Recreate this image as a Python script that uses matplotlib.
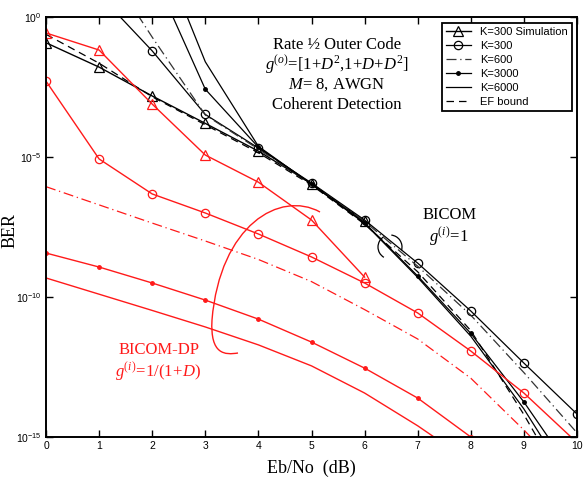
import numpy as np
import matplotlib
matplotlib.use("Agg")
import matplotlib.pyplot as plt
from matplotlib.path import Path
from matplotlib.patches import PathPatch, Arc

plt.rcParams['font.family'] = ['Liberation Sans', 'DejaVu Sans']
plt.rcParams['mathtext.fontset'] = 'custom'
plt.rcParams['mathtext.rm'] = 'Liberation Serif'
plt.rcParams['mathtext.it'] = 'Liberation Serif:italic'
plt.rcParams['mathtext.bf'] = 'Liberation Serif:bold'
plt.rcParams['mathtext.sf'] = 'Liberation Sans'

# BICOM, g(i)=1  (log10 BER)
bicom_sim_x = [0, 1, 2, 3, 4, 5, 6]
bicom_sim = [-0.92, -1.79, -2.82, -3.80, -4.79, -5.95, -7.30]
bicom_k300_x = [1, 2, 3, 4, 5, 6, 7, 8, 9, 10]
bicom_k300 = [0.8, -1.21, -3.48, -4.68, -5.93, -7.25, -8.79, -10.5, -12.36, -14.18]
bicom_k600_x = [1, 2, 3, 4, 5, 6, 7, 8, 9, 10]
bicom_k600 = [2.2, -0.72, -3.5, -4.72, -5.97, -7.3, -8.9, -10.65, -12.7, -14.85]
bicom_k3000_x = [2, 3, 4, 5, 6, 7, 8, 9, 10]
bicom_k3000 = [1.65, -2.58, -4.65, -5.97, -7.35, -9.25, -11.3, -13.75, -16.5]
bicom_k6000_x = [2, 3, 4, 5, 6, 7, 8, 9, 10]
bicom_k6000 = [3.1, -1.6, -4.62, -5.97, -7.37, -9.3, -11.4, -14.0, -17.0]
ef_x = [0, 1, 2, 3, 4, 5, 6, 7, 8, 9, 10]
ef_bound = [-0.62, -1.65, -2.85, -3.85, -4.85, -6.0, -7.4, -9.1, -11.2, -14.2, -17.5]

# BICOM-DP, g(i)=1/(1+D)
dp_sim_x = [0, 1, 2, 3, 4, 5, 6]
dp_sim = [-0.57, -1.18, -3.11, -4.93, -5.9, -7.25, -9.29]
dp_k300_x = [0, 1, 2, 3, 4, 5, 6, 7, 8, 9, 10]
dp_k300 = [-2.29, -5.07, -6.32, -7.0, -7.75, -8.57, -9.5, -10.57, -11.93, -13.43, -15.2]
dp_k600_x = [0, 1, 2, 3, 4, 5, 6, 7, 8, 9, 10]
dp_k600 = [-6.06, -6.71, -7.36, -8.0, -8.66, -9.45, -10.45, -11.5, -12.9, -14.75, -16.7]
dp_k3000_x = [0, 1, 2, 3, 4, 5, 6, 7, 8]
dp_k3000 = [-8.43, -8.93, -9.5, -10.11, -10.79, -11.61, -12.54, -13.61, -15.0]
dp_k6000_x = [0, 1, 2, 3, 4, 5, 6, 7, 8]
dp_k6000 = [-9.32, -9.9, -10.48, -11.07, -11.71, -12.46, -13.43, -14.6, -15.9]

RED = '#ff1a1a'
dashdot = (0, (8, 3, 1, 3))


def ber(v):
    return 10.0 ** np.array(v)


fig = plt.figure(figsize=(5.84, 4.78), dpi=100)
ax = fig.add_axes([46 / 584, 41 / 478, 531 / 584, 420 / 478])
ax.set_yscale('log')

# black: BICOM
ax.plot(bicom_sim_x, ber(bicom_sim), color='k', lw=1, marker='^', ms=7, mfc='none',
        mew=0.9, label='K=300 Simulation')
ax.plot(bicom_k300_x, ber(bicom_k300), color='k', lw=0.9, marker='o', ms=6, mfc='none',
        mew=0.9, markevery=list(range(1, 10)), label='K=300')
ax.plot(bicom_k600_x, ber(bicom_k600), color='#333333', lw=0.9, ls=dashdot, label='K=600')
ax.plot(bicom_k3000_x, ber(bicom_k3000), color='k', lw=0.9, marker='o', ms=2.5,
        markevery=list(range(1, 8)), label='K=3000')
ax.plot(bicom_k6000_x, ber(bicom_k6000), color='k', lw=0.9, label='K=6000')
ax.plot(ef_x, ber(ef_bound), color='k', lw=0.9, ls=(0, (6, 4)), label='EF bound')

# red: BICOM-DP
ax.plot(dp_sim_x, ber(dp_sim), color=RED, lw=1, marker='^', ms=7, mfc='none', mew=0.9)
ax.plot(dp_k300_x, ber(dp_k300), color=RED, lw=1, marker='o', ms=6, mfc='none',
        mew=0.9, markevery=list(range(0, 10)))
ax.plot(dp_k600_x, ber(dp_k600), color=RED, lw=0.9, ls=dashdot)
ax.plot(dp_k3000_x, ber(dp_k3000), color=RED, lw=1, marker='o', ms=2.5)
ax.plot(dp_k6000_x, ber(dp_k6000), color=RED, lw=1)

ax.set_xlim(0, 10)
ax.set_ylim(1e-15, 1e0)
ax.set_xticks(range(0, 11))
ax.set_xticklabels([str(i) for i in range(0, 11)], fontsize=7.5)
ax.set_yticks([1e-15, 1e-10, 1e-5, 1e0])
ax.set_yticklabels([r'$\mathsf{10^{-15}}$', r'$\mathsf{10^{-10}}$',
                    r'$\mathsf{10^{-5}}$', r'$\mathsf{10^{0}}$'], fontsize=7.5)
ax.minorticks_off()
ax.tick_params(direction='in', top=True, right=True, length=5, width=1, pad=3)
for s in ax.spines.values():
    s.set_linewidth(1.4)


def px(xp, yp):
    return ((xp - 46) / 531, (437 - yp) / 420)


ax.set_ylabel('BER', family='Liberation Serif', fontsize=13)
ax.yaxis.set_label_coords(*px(19, 230))
ax.set_xlabel('Eb/No  (dB)', family='Liberation Serif', fontsize=13, labelpad=6)

leg = ax.legend(loc='upper right', bbox_to_anchor=(0.99, 0.986), borderaxespad=0,
                fontsize=8, handlelength=2.3, labelspacing=0.36, handletextpad=0.8,
                borderpad=0.35, fancybox=False, framealpha=1, edgecolor='k')
leg.get_frame().set_linewidth(1.3)

serif = dict(family='Liberation Serif', fontsize=12, ha='center', va='center',
             transform=ax.transAxes)
ax.text(*px(337, 45), 'Rate ½ Outer Code', **serif)
ax.text(*px(337, 65), r'$g^{(o)}$=[$\mathit{1}$+$D^2$,$\mathit{1}$+$D$+$D^2$]', **serif)
ax.text(*px(337, 85), r'$M$= 8, AWGN', **serif)
ax.text(*px(337, 105), 'Coherent Detection', **serif)

ax.text(*px(450, 215), 'BICOM', **serif)
ax.text(*px(449, 237), r'$g^{(i)}\!\mathit{=}\!\mathit{1}$', **serif)

ax.text(*px(159, 350), 'BICOM-DP', color=RED, **serif)
ax.text(*px(158, 372), r'$g^{(i)}\!\mathit{=}\!\mathit{1/(1}\!+\!\mathit{D)}$', color=RED, **serif)

# brackets around BICOM curves
cx, cy = px(390, 247)
for t1, t2 in [(-20, 85), (115, 245)]:
    ax.add_patch(Arc((cx, cy), 24 / 531, 24 / 420, theta1=t1, theta2=t2,
                     transform=ax.transAxes, color='k', lw=0.9))

# red loop around BICOM-DP curves
verts = [px(320, 212), px(280, 190), px(220, 225), px(212, 320),
         px(210, 355), px(225, 355), px(238, 353)]
codes = [Path.MOVETO] + [Path.CURVE4] * 6
ax.add_patch(PathPatch(Path(verts, codes), transform=ax.transAxes, fill=False,
                       edgecolor=RED, lw=1))

fig.savefig('out.png', dpi=100)
